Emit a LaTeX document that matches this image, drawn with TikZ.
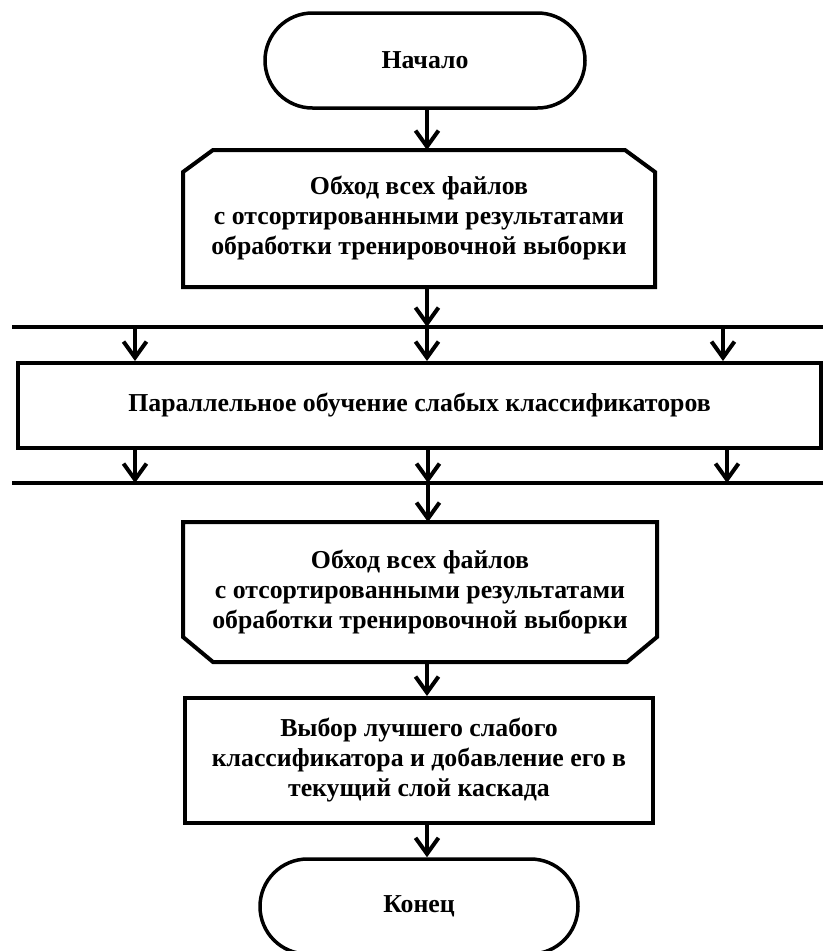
\documentclass[tikz,border=0pt]{standalone}
\usepackage{fontspec}
\setmainfont{Liberation Serif}
\usetikzlibrary{arrows.meta,calc}
\begin{document}
\begin{tikzpicture}[x=1pt,y=-1pt,
  every node/.style={font=\fontsize{25.8}{30}\selectfont\bfseries, align=center, inner sep=0pt},
  term/.style={draw, line width=3.5pt, rounded corners=47.5pt, minimum width=320pt, minimum height=95pt},
  boxn/.style={draw, line width=4pt},
  shell/.style={outer sep=0pt},
  outline/.style={line width=4pt, line join=miter},
  busline/.style={line width=4.5pt},
  arr/.style={line width=4pt, -{Straight Barb[length=16pt,width=23pt]}}]
\useasboundingbox (0,0) rectangle (823,951);
\clip (0,0) rectangle (823,951);
\fill[white] (0,0) rectangle (823,951);
\coordinate (ax) at (427,0);

% start terminal
\node[term] (start) at (425,60.5) {Начало};

% loop start
\node[shell, minimum width=472pt, minimum height=137pt] (L1) at (419,218.5)
  {Обход всех файлов\\с отсортированными результатами\\обработки тренировочной выборки};
\draw[outline] ([yshift=-22pt]L1.north west) -- ([xshift=30pt]L1.north west)
  -- ([xshift=-30pt]L1.north east) -- ([yshift=-22pt]L1.north east)
  -- (L1.south east) -- (L1.south west) -- cycle;

% parallel bus lines
\coordinate (topL) at (12,327);
\coordinate (topR) at (823,327);
\coordinate (botL) at (12,483);
\coordinate (botR) at (823,483);
\draw[busline] (topL) -- (topR);
\draw[busline] (botL) -- (botR);
\coordinate (t1) at (135,327);
\coordinate (t2) at (427,327);
\coordinate (t3) at (723,327);
\coordinate (b1) at (135,483);
\coordinate (b2) at (428,483);
\coordinate (b3) at (727,483);

% parallel box
\node[boxn, minimum width=803pt, minimum height=85pt] (par) at (419.5,405.5)
  {Параллельное обучение слабых классификаторов};

% loop end
\node[shell, minimum width=474pt, minimum height=140pt] (L2) at (420,592)
  {Обход всех файлов\\с отсортированными результатами\\обработки тренировочной выборки};
\draw[outline] (L2.north west) -- (L2.north east)
  -- ([yshift=25pt]L2.south east) -- ([xshift=-30pt]L2.south east)
  -- ([xshift=30pt]L2.south west) -- ([yshift=25pt]L2.south west) -- cycle;

% process
\node[boxn, minimum width=468pt, minimum height=125pt] (proc) at (419,760.5)
  {Выбор лучшего слабого\\классификатора и добавление его в\\текущий слой каскада};

% end terminal
\node[term, minimum width=318pt] (stop) at (419,906.5) {Конец};

% connectors
\draw[arr] (start.south -| ax) -- (L1.north -| ax);
\draw[arr] (L1.south -| ax) -- (t2);
\draw[arr] (t1) -- (t1 |- par.north);
\draw[arr] (t2) -- (t2 |- par.north);
\draw[arr] (t3) -- (t3 |- par.north);
\draw[arr] (par.south -| b1) -- (b1);
\draw[arr] (par.south -| b2) -- (b2);
\draw[arr] (par.south -| b3) -- (b3);
\draw[arr] (b2) -- (b2 |- L2.north);
\draw[arr] (L2.south -| ax) -- (proc.north -| ax);
\draw[arr] (proc.south -| ax) -- (stop.north -| ax);
\end{tikzpicture}
\end{document}
